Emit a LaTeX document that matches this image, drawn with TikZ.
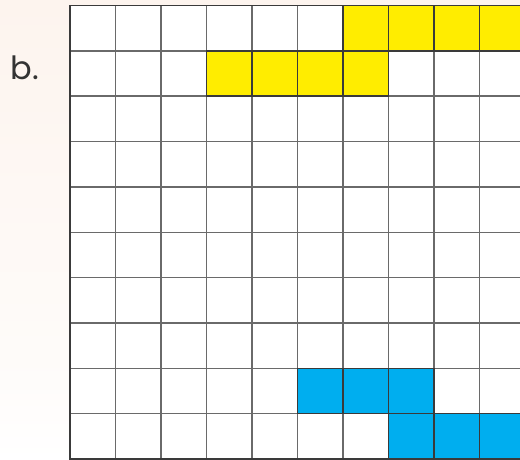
\documentclass[tikz,border=0pt]{standalone}
\usepackage{fontspec}
\setmainfont{Poppins}
\definecolor{peach}{HTML}{FDF4EE}
\definecolor{yel}{HTML}{FFED00}
\definecolor{blu}{HTML}{00AEEF}
\definecolor{gridgray}{HTML}{6A6A6A}
\definecolor{darkline}{HTML}{3A3A3A}
\begin{document}
\begin{tikzpicture}[x=1pt,y=-1pt,
  gridline/.style={draw=gridgray,line width=1.4pt},
  label/.style={font=\fontsize{32}{32}\selectfont,text=black!80}]
\useasboundingbox (0,0) rectangle (520,460);
\clip (0,0) rectangle (520,460);
\shade[top color=peach,bottom color=peach!30!white] (0,0) rectangle (520,380);
\shade[top color=peach!30!white,bottom color=white] (0,380) rectangle (520,460);
\def\cw{45.5}
\def\ch{45.35}
\def\gx{70}
\def\gy{5.5}
\fill[white] (\gx,\gy) rectangle (\gx+10*\cw,\gy+10*\ch);
% colored cells
\foreach \c/\r in {6/0,7/0,8/0,9/0,3/1,4/1,5/1,6/1}
  \fill[yel] (\gx+\c*\cw,\gy+\r*\ch) rectangle ++(\cw,\ch);
\foreach \c/\r in {5/8,6/8,7/8,7/9,8/9,9/9}
  \fill[blu] (\gx+\c*\cw,\gy+\r*\ch) rectangle ++(\cw,\ch);
% grid
\foreach \i in {0,...,10}{
  \draw[gridline] (\gx+\i*\cw,\gy) -- (\gx+\i*\cw,\gy+10*\ch);
  \draw[gridline] (\gx,\gy+\i*\ch) -- (\gx+10*\cw,\gy+\i*\ch);
}
\foreach \c/\r in {6/0,7/0,8/0,9/0,3/1,4/1,5/1,6/1}
  \draw[darkline,line width=1.4pt] (\gx+\c*\cw,\gy+\r*\ch) rectangle ++(\cw,\ch);
\foreach \c/\r in {5/8,6/8,7/8,7/9,8/9,9/9}
  \draw[darkline,line width=1.4pt] (\gx+\c*\cw,\gy+\r*\ch) rectangle ++(\cw,\ch);
\draw[darkline,line width=1.6pt] (\gx,\gy) rectangle (\gx+10*\cw,\gy+10*\ch);
\node[label] (b) at (25,68) {b.};
\end{tikzpicture}
\end{document}
